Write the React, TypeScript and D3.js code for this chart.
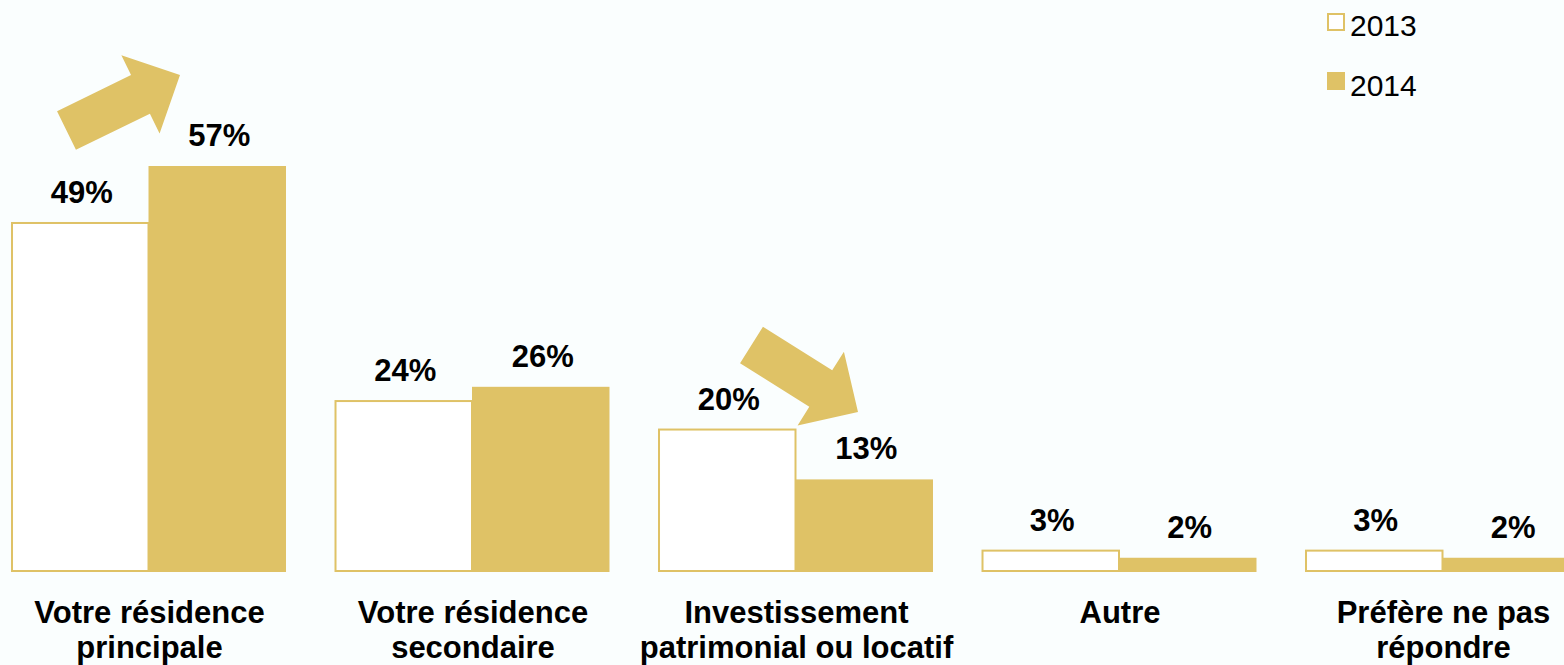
import React from "react";
import * as d3 from "d3";

const categories: string[][] = [
  ["Votre résidence", "principale"],
  ["Votre résidence", "secondaire"],
  ["Investissement", "patrimonial ou locatif"],
  ["Autre"],
  ["Préfère ne pas", "répondre"],
];
const seriesNames = ["2013", "2014"];
const values2013 = [49, 24, 20, 3, 3];
const values2014 = [57, 26, 13, 2, 2];

const W = 1564;
const H = 665;
const GOLD = "#dfc266";
const BG = "#fafefe";
const FONT = "'Liberation Sans', Arial, Helvetica, sans-serif";

// decorative trend arrows: [tailX, tailY, tipX, tipY]
const arrows: [number, number, number, number][] = [
  [66.5, 130.5, 180, 75],
  [751.5, 345, 858, 412],
];

function arrowPoints(tx: number, ty: number, px: number, py: number) {
  const L = Math.hypot(px - tx, py - ty);
  const ux = (px - tx) / L, uy = (py - ty) / L;
  const nx = -uy, ny = ux;
  const sw = 21.5, hw = 43.5, hl = 44;
  const bx = px - ux * hl, by = py - uy * hl;
  const pts = [
    [tx + nx * sw, ty + ny * sw],
    [bx + nx * sw, by + ny * sw],
    [bx + nx * hw, by + ny * hw],
    [px, py],
    [bx - nx * hw, by - ny * hw],
    [bx - nx * sw, by - ny * sw],
    [tx - nx * sw, ty - ny * sw],
  ];
  return pts.map((p) => p.join(",")).join(" ");
}

export default function App() {
  const keys = categories.map((c) => c.join(" "));
  const x0 = d3
    .scaleBand<string>()
    .domain(keys)
    .range([-13.25, 1604.25])
    .paddingInner(0.15)
    .paddingOuter(0.075);
  const x1 = d3.scaleBand<string>().domain(seriesNames).range([0, x0.bandwidth()]);
  const y = d3.scaleLinear().domain([0, 57]).range([572, 166]);

  const series = [values2013, values2014];

  return (
    <svg
      width={W}
      height={H}
      style={{ position: "absolute", left: 0, top: 0, display: "block" }}
      fontFamily={FONT}
    >
      <rect x={0} y={0} width={W} height={H} fill={BG} />
      {keys.map((k, i) => (
        <g key={k} transform={`translate(${x0(k)},0)`}>
          {seriesNames.map((s, si) => {
            const v = series[si][i];
            const bx = x1(s)!;
            const bw = x1.bandwidth();
            return (
              <g key={s}>
                {si === 0 ? (
                  <rect
                    x={bx + 1}
                    y={y(v)}
                    width={bw - 1}
                    height={y(0) - y(v) - 1}
                    fill="#ffffff"
                    stroke={GOLD}
                    strokeWidth={2}
                  />
                ) : (
                  <rect x={bx} y={y(v)} width={bw} height={y(0) - y(v)} fill={GOLD} />
                )}
                <text
                  x={bx + bw / 2 + 2}
                  y={y(v) - 20}
                  textAnchor="middle"
                  fontSize={31}
                  fontWeight="bold"
                  fill="#000"
                >
                  {v}%
                </text>
              </g>
            );
          })}
          {categories[i].map((line, li) => (
            <text
              key={li}
              x={x0.bandwidth() / 2 + 1}
              y={623 + li * 35}
              textAnchor="middle"
              fontSize={31}
              fontWeight="bold"
              fill="#000"
            >
              {line}
            </text>
          ))}
        </g>
      ))}
      {arrows.map((a, i) => (
        <polygon key={i} points={arrowPoints(a[0], a[1], a[2], a[3])} fill={GOLD} />
      ))}
      {/* legend */}
      <g>
        <rect x={1328} y={14} width={16} height={16} fill="#fff" stroke={GOLD} strokeWidth={2} />
        <text x={1350} y={36} fontSize={30} fill="#000">
          {seriesNames[0]}
        </text>
        <rect x={1327} y={72} width={18} height={18} fill={GOLD} />
        <text x={1350} y={96} fontSize={30} fill="#000">
          {seriesNames[1]}
        </text>
      </g>
    </svg>
  );
}
